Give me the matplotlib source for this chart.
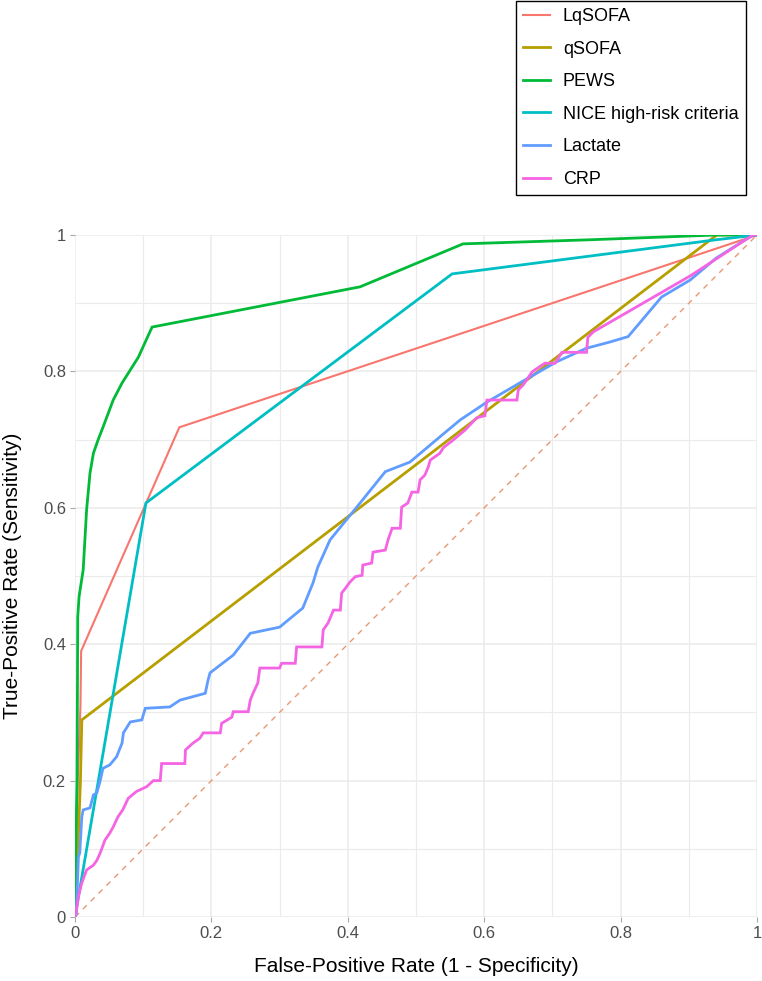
import numpy as np
from matplotlib import pyplot as plt

plt.rcParams['font.family'] = ['Liberation Sans', 'DejaVu Sans']

# ROC curves (fpr = 1 - specificity, tpr = sensitivity)
lq_fpr = [0, 0.004, 0.008, 0.009, 0.153, 1.0]
lq_tpr = [0, 0.2, 0.31, 0.39, 0.718, 1.0]

q_fpr = [0, 0.003, 0.005, 0.008, 0.010, 0.941, 1.0]
q_tpr = [0, 0.08, 0.12, 0.2, 0.289, 1.0, 1.0]

pews_fpr = [0, 0.001, 0.003, 0.004, 0.006, 0.012, 0.017, 0.022, 0.027, 0.034, 0.041,
            0.056, 0.069, 0.093, 0.113, 0.418, 0.569, 0.755, 0.94, 1.0]
pews_tpr = [0, 0.1, 0.2, 0.44, 0.47, 0.509, 0.597, 0.651, 0.68, 0.70, 0.718,
            0.758, 0.783, 0.821, 0.865, 0.924, 0.987, 0.993, 1.0, 1.0]

nice_fpr = [0, 0.104, 0.553, 0.94, 1.0]
nice_tpr = [0, 0.607, 0.943, 0.993, 1.0]

lac_fpr = [0, 0.002, 0.005, 0.007, 0.01, 0.012, 0.022, 0.027, 0.032, 0.037, 0.041, 0.051,
           0.061, 0.069, 0.071, 0.081, 0.098, 0.103, 0.139, 0.154, 0.191, 0.195, 0.198,
           0.232, 0.257, 0.3, 0.334, 0.349, 0.356, 0.374, 0.418, 0.455, 0.491, 0.535,
           0.565, 0.604, 0.652, 0.706, 0.75, 0.784, 0.811, 0.86, 0.902, 0.94, 0.994, 1.0]
lac_tpr = [0, 0.005, 0.088, 0.094, 0.147, 0.157, 0.16, 0.179, 0.182, 0.2, 0.218, 0.223,
           0.235, 0.255, 0.27, 0.286, 0.289, 0.306, 0.308, 0.318, 0.328, 0.347, 0.358,
           0.384, 0.416, 0.425, 0.453, 0.49, 0.513, 0.553, 0.607, 0.653, 0.667, 0.704,
           0.729, 0.755, 0.783, 0.814, 0.834, 0.843, 0.851, 0.909, 0.934, 0.966, 1.0, 1.0]

crp_fpr = [0, 0.003, 0.005, 0.01, 0.017, 0.027, 0.032, 0.037, 0.044, 0.051, 0.056, 0.063,
           0.07, 0.078, 0.09, 0.105, 0.115, 0.125, 0.127, 0.161, 0.162, 0.173, 0.183, 0.188,
           0.213, 0.215, 0.23, 0.232, 0.254, 0.257, 0.261, 0.268, 0.271, 0.3, 0.303, 0.323,
           0.325, 0.362, 0.364, 0.371, 0.379, 0.389, 0.391, 0.398, 0.403, 0.411, 0.421,
           0.422, 0.435, 0.437, 0.455, 0.459, 0.465, 0.477, 0.479, 0.488, 0.494, 0.503,
           0.506, 0.513, 0.518, 0.521, 0.535, 0.54, 0.554, 0.572, 0.589, 0.601, 0.604,
           0.648, 0.65, 0.657, 0.67, 0.674, 0.689, 0.704, 0.714, 0.75, 0.752, 0.76, 0.902,
           0.994, 1.0]
crp_tpr = [0, 0.015, 0.03, 0.05, 0.069, 0.076, 0.083, 0.094, 0.113, 0.123, 0.132, 0.147,
           0.157, 0.174, 0.184, 0.191, 0.2, 0.2, 0.225, 0.225, 0.245, 0.255, 0.262, 0.27,
           0.27, 0.284, 0.293, 0.301, 0.301, 0.318, 0.328, 0.343, 0.365, 0.365, 0.372, 0.372,
           0.396, 0.396, 0.421, 0.431, 0.45, 0.45, 0.475, 0.484, 0.491, 0.499, 0.501,
           0.516, 0.519, 0.535, 0.538, 0.553, 0.57, 0.57, 0.601, 0.607, 0.623, 0.623,
           0.641, 0.648, 0.66, 0.67, 0.68, 0.688, 0.699, 0.714, 0.732, 0.735, 0.758,
           0.758, 0.773, 0.78, 0.799, 0.802, 0.812, 0.812, 0.828, 0.828, 0.85, 0.858, 0.94,
           1.0, 1.0]

labels = ['LqSOFA', 'qSOFA', 'PEWS', 'NICE high-risk criteria', 'Lactate', 'CRP']
colors = ['#F8766D', '#B79F00', '#00BA38', '#00BFC4', '#619CFF', '#F564E3']
curves = [(lq_fpr, lq_tpr), (q_fpr, q_tpr), (pews_fpr, pews_tpr),
          (nice_fpr, nice_tpr), (lac_fpr, lac_tpr), (crp_fpr, crp_tpr)]
ticks = [0, 0.2, 0.4, 0.6, 0.8, 1]
tick_labels = ['0', '0.2', '0.4', '0.6', '0.8', '1']

W, H = 762, 981
fig = plt.figure(figsize=(W / 100, H / 100), dpi=100)
ax = fig.add_axes([75 / W, (H - 917) / H, 682 / W, 682 / H])

ax.set_xlim(0, 1)
ax.set_ylim(0, 1)
for s in ax.spines.values():
    s.set_visible(False)

ax.set_xticks(ticks)
ax.set_xticklabels(tick_labels)
ax.set_yticks(ticks)
ax.set_yticklabels(tick_labels)
ax.set_xticks(np.arange(0.1, 1.0, 0.2), minor=True)
ax.set_yticks(np.arange(0.1, 1.0, 0.2), minor=True)
ax.tick_params(which='major', length=3.5, width=0.8, color='#A8A8A8', pad=3,
               labelsize=12, labelcolor='#4D4D4D')
ax.tick_params(which='minor', length=0)
ax.grid(True, which='major', color='#EBEBEB', lw=1.1)
ax.grid(True, which='minor', color='#EBEBEB', lw=0.8)
ax.set_axisbelow(True)

ax.plot([0, 1], [0, 1], ls=(0, (4, 4)), color='#E9976F', lw=1.0)

handles = []
for (fx, ty), c, lab in zip(curves, colors, labels):
    lw = 1.5 if lab == 'LqSOFA' else 2.0
    h, = ax.plot(fx, ty, color=c, lw=lw, label=lab, solid_joinstyle='miter')
    handles.append(h)

fig.text((75 + 757) / 2 / W, 1 - 967 / H, 'False-Positive Rate (1 - Specificity)',
         ha='center', va='center', fontsize=15)
fig.text(13 / W, 1 - 576 / H, 'True-Positive Rate (Sensitivity)',
         ha='center', va='center', rotation=90, fontsize=15)

leg = fig.legend(handles=handles, labels=labels, loc='upper left',
                 bbox_to_anchor=(516 / W, 1 - 1 / H), borderaxespad=0,
                 fontsize=13, frameon=True, fancybox=False, framealpha=1,
                 edgecolor='black', handlelength=1.5, handletextpad=0.7,
                 labelspacing=0.86, borderpad=0.4)
leg.get_frame().set_linewidth(1.0)

fig.savefig('out.png', dpi=100)
